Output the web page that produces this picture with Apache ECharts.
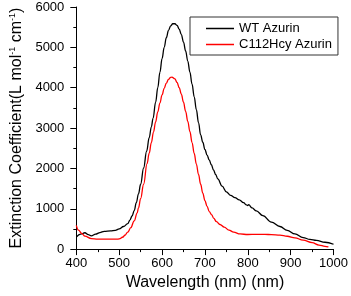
<!DOCTYPE html>
<html>
<head>
<meta charset="utf-8">
<script src="https://cdn.jsdelivr.net/npm/echarts@6/dist/echarts.min.js"></script>
<style>html,body{margin:0;padding:0;background:#fff}#c{width:351px;height:296px}</style>
</head>
<body>
<div id="c"></div>
<script>
const wtWavelength = [400,410,420,428,435,445,455,465,480,491,500,510,520,525,530,535,540,545,550,557,564,570,575,579,585,590,595,600,605,610,615,620,625,630,635,640,645,650,655,660,665,670,675,680,685,690,695,700,705,710,715,720,725,730,740,750,760,770,780,790,797,800,802,810,820,835,855,875,892,910,929,945,960,980,1000];
const wtValues = [300,370,405,360,330,370,410,440,450,465,500,560,630,720,820,955,1150,1370,1607,2010,2425,2760,3030,3241,3640,4000,4380,4720,5000,5240,5420,5530,5585,5585,5545,5450,5315,5130,4910,4660,4385,4085,3775,3455,3135,2830,2650,2470,2330,2210,2090,1960,1850,1740,1560,1420,1330,1275,1220,1150,1095,1080,1100,1020,945,830,670,560,465,375,285,240,215,170,120];
const hcyWavelength = [400,405,413,420,435,450,465,480,494,500,509,513,520,527,535,542,545,550,557,565,570,575,580,585,590,595,600,605,610,615,620,623,630,635,640,645,650,655,660,665,670,675,680,685,690,695,700,705,710,716,720,727,735,745,756,767,782,800,820,840,855,875,892,910,929,950,966,980,988];
const hcyValues = [588,470,383,320,260,248,245,245,245,255,300,343,420,530,700,900,1020,1250,1607,2116,2375,2640,2900,3155,3400,3620,3820,3985,4115,4205,4255,4263,4218,4130,4000,3838,3640,3412,3167,2908,2640,2370,2106,1850,1607,1385,1200,1060,930,850,770,680,610,545,470,420,375,362,365,365,358,345,318,280,220,160,100,70,56];
const xTicks = [400,500,600,700,800,900,1000];
const yTicks = [0,1000,2000,3000,4000,5000,6000];
const seriesNames = ['WT Azurin','C112Hcy Azurin'];

const font = '"Liberation Sans", Arial, sans-serif';
const chart = echarts.init(document.getElementById('c'), null, {renderer:'canvas'});
const zip = (a,b) => a.map((v,i)=>[v,b[i]]);
chart.setOption({
  animation:false,
  backgroundColor:'#fff',
  grid:{left:64,right:16,top:7,bottom:44},
  legend:{
    orient:'vertical', left:190, top:17,
    borderColor:'#333', borderWidth:1,
    padding:[4,6,3,16], itemWidth:28, itemHeight:1.5, itemGap:1, icon:'rect',
    textStyle:{fontFamily:font,fontSize:13,color:'#000',padding:[0,0,0,0],lineHeight:15},
    data:seriesNames
  },
  xAxis:{
    type:'value', min:xTicks[0], max:xTicks[xTicks.length-1], interval:100,
    name:'Wavelength (nm) (nm)', nameLocation:'middle', nameGap:11,
    nameTextStyle:{fontFamily:font,fontSize:16,color:'#000',verticalAlign:'top'},
    axisLine:{lineStyle:{color:'#000',width:1}},
    axisTick:{inside:false,length:6,lineStyle:{color:'#000'}},
    minorTick:{show:true,splitNumber:2,length:3,lineStyle:{color:'#000'}},
    splitLine:{show:false},
    axisLabel:{fontFamily:font,fontSize:13,color:'#000',margin:8,formatter:v=>String(v)}
  },
  yAxis:{
    type:'value', min:yTicks[0], max:yTicks[yTicks.length-1], interval:1000,
    name:'{n|Extinction Coefficient(L mol}{s|-1}{n| cm}{s|-1}{n|)}', nameLocation:'middle', nameGap:46,
    nameTextStyle:{fontFamily:font,fontSize:16,color:'#000',
      rich:{n:{fontFamily:font,fontSize:16,color:'#000'},s:{fontFamily:font,fontSize:9,color:'#000',verticalAlign:'top',padding:[0,0,8,0]}}},
    axisLine:{show:true,lineStyle:{color:'#000',width:1}},
    axisTick:{show:true,inside:false,length:6,lineStyle:{color:'#000'}},
    minorTick:{show:true,splitNumber:2,length:3,lineStyle:{color:'#000'}},
    splitLine:{show:false},
    axisLabel:{fontFamily:font,fontSize:13,color:'#000',margin:12,formatter:v=>String(v)}
  },
  series:[
    {name:seriesNames[0],type:'line',data:zip(wtWavelength,wtValues),smooth:0.4,smoothMonotone:'x',symbol:'none',
      lineStyle:{color:'#000',width:1.3},itemStyle:{color:'#000'}},
    {name:seriesNames[1],type:'line',data:zip(hcyWavelength,hcyValues),smooth:0.4,smoothMonotone:'x',symbol:'none',
      lineStyle:{color:'#ff0000',width:1.3},itemStyle:{color:'#ff0000'}}
  ]
});
</script>
</body>
</html>
